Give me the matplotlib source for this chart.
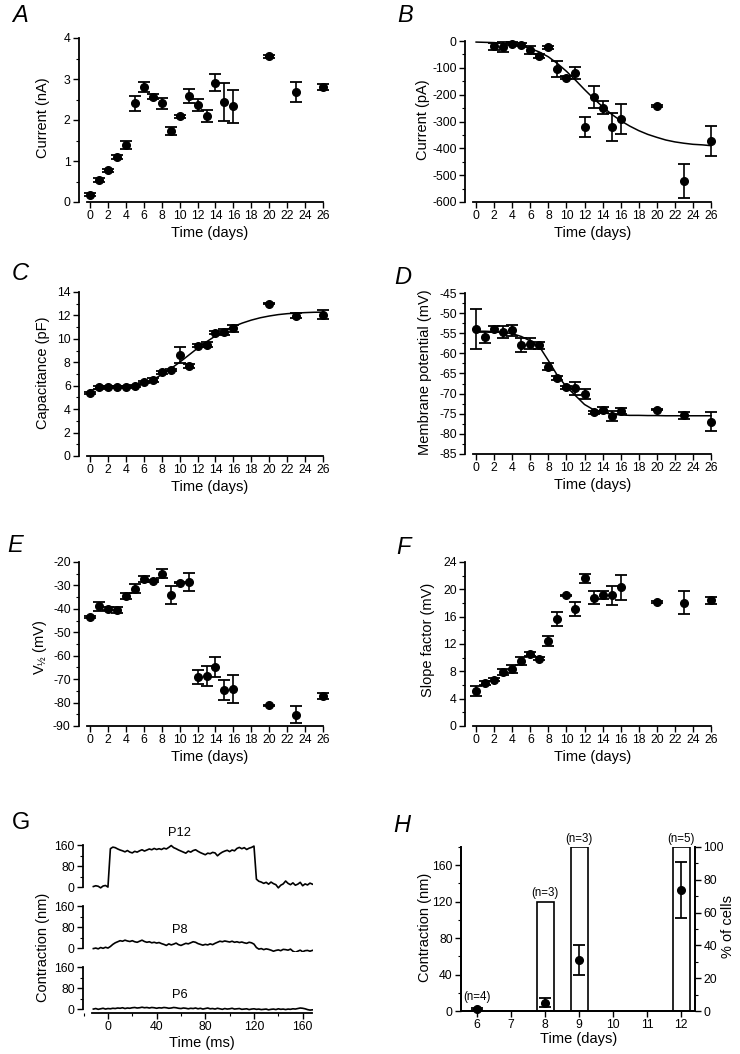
import numpy as np
import matplotlib
matplotlib.use('Agg')
import matplotlib.pyplot as plt
from matplotlib.ticker import MultipleLocator

plt.rcParams['font.family'] = ['Liberation Sans', 'DejaVu Sans']
plt.rcParams['axes.unicode_minus'] = False
plt.rcParams['mathtext.fontset'] = 'custom'
plt.rcParams['mathtext.rm'] = 'Liberation Sans'

W, H = 740, 1054

# ---- data: panels A-F (day, mean, sem) ----
days = [0, 1, 2, 3, 4, 5, 6, 7, 8, 9, 10, 11, 12, 13, 14, 15, 16, 20, 23, 26]

cur_na = [0.18, 0.54, 0.77, 1.09, 1.40, 2.41, 2.80, 2.57, 2.41, 1.74,
          2.09, 2.58, 2.37, 2.10, 2.91, 2.44, 2.33, 3.55, 2.68, 2.81]
cur_na_err = [0.03, 0.04, 0.03, 0.05, 0.10, 0.18, 0.12, 0.06, 0.13, 0.10,
              0.04, 0.17, 0.15, 0.15, 0.20, 0.46, 0.41, 0.03, 0.25, 0.08]

days_b = [2, 3, 4, 5, 6, 7, 8, 9, 10, 11, 12, 13, 14, 15, 16, 20, 23, 26]
cur_pa = [-20, -22, -10, -14, -32, -57, -24, -103, -137, -118,
          -319, -208, -248, -319, -291, -243, -523, -372]
cur_pa_err = [12, 18, 5, 5, 15, 7, 4, 30, 5, 22,
              37, 40, 25, 52, 55, 3, 63, 55]
fit_days = list(range(27))
cur_pa_fit = [-4, -5, -6, -9, -12, -18, -28, -41, -59, -84, -113, -146, -181,
              -214, -245, -273, -297, -317, -334, -348, -359, -369, -376,
              -381, -385, -387, -390]

cap_pf = [5.37, 5.86, 5.86, 5.91, 5.91, 6.00, 6.34, 6.49, 7.14, 7.34,
          8.60, 7.69, 9.43, 9.49, 10.54, 10.57, 10.91, 13.00, 11.97, 12.06]
cap_pf_err = [0.12, 0.10, 0.08, 0.08, 0.10, 0.10, 0.10, 0.15, 0.10, 0.10,
              0.68, 0.20, 0.10, 0.20, 0.15, 0.25, 0.30, 0.02, 0.20, 0.40]
cap_pf_fit = [5.60, 5.75, 5.82, 5.87, 5.92, 6.00, 6.20, 6.50, 6.95, 7.45,
              8.00, 8.60, 9.20, 9.75, 10.25, 10.70, 11.05, 11.35, 11.60,
              11.80, 11.95, 12.07, 12.15, 12.20, 12.24, 12.27, 12.28]

vm = [-54.0, -56.0, -54.0, -54.8, -54.3, -58.0, -57.6, -58.0, -63.3, -66.2,
      -68.4, -68.7, -70.1, -74.6, -74.0, -75.5, -74.3, -74.0, -75.4, -77.0]
vm_err = [5.0, 1.3, 0.8, 1.5, 1.3, 1.7, 1.3, 0.9, 0.8, 0.5,
          0.4, 1.7, 1.2, 0.4, 0.8, 1.3, 0.7, 0.1, 0.8, 2.4]
vm_fit = [-54.5, -54.5, -54.6, -54.8, -55.1, -55.8, -56.9, -58.3, -61.8,
          -65.5, -68.3, -70.5, -72.7, -74.0, -74.7, -75.1, -75.3, -75.4,
          -75.4, -75.45, -75.45, -75.5, -75.5, -75.5, -75.5, -75.5, -75.5]

vhalf = [-43.5, -38.9, -39.9, -40.6, -34.7, -31.4, -27.4, -28.1, -25.0, -34.2,
         -28.8, -28.5, -69.1, -68.6, -64.8, -74.8, -74.1, -81.2, -85.1, -77.3]
vhalf_err = [0.5, 2.0, 0.5, 1.2, 1.3, 2.0, 1.3, 0.5, 2.0, 3.8,
             0.2, 3.7, 2.8, 4.3, 4.1, 4.3, 6.0, 0.2, 3.7, 1.3]

slope = [5.12, 6.34, 6.78, 7.90, 8.30, 9.50, 10.50, 9.85, 12.40, 15.70,
         19.10, 17.10, 21.60, 18.80, 19.20, 19.10, 20.30, 18.15, 18.05, 18.40]
slope_err = [0.8, 0.3, 0.2, 0.4, 0.6, 0.6, 0.3, 0.2, 0.7, 1.0,
             0.1, 1.0, 0.6, 0.9, 0.6, 1.4, 1.8, 0.1, 1.7, 0.5]

# ---- data: panel G traces, sampled every 2 ms from -12 ms ----
p12 = [2, 5, 3, -3, 4, 6, 0, 146, 152, 150,
       145, 141, 138, 134, 139, 133, 130, 136, 133, 138,
       142, 137, 141, 145, 142, 147, 143, 146, 143, 148,
       145, 151, 158, 150, 146, 141, 137, 133, 129, 137,
       133, 139, 142, 136, 131, 127, 123, 129, 127, 132,
       130, 119, 127, 133, 137, 140, 135, 141, 138, 147,
       151, 146, 150, 143, 148, 151, 156, 30, 22, 19,
       14, 18, 11, 19, 13, 9, -3, 7, 12, 23,
       14, 9, 16, 7, 11, 18, 5, 12, 8, 15,
       11]
p8 = [-2, 0, -3, 2, -1, 3, 0, 6, 14, 20,
      24, 28, 26, 30, 27, 25, 28, 24, 22, 26,
      30, 25, 22, 24, 20, 22, 19, 21, 17, 14,
      10, 16, 12, 15, 19, 13, 10, 14, 18, 16,
      20, 24, 22, 17, 14, 11, 14, 12, 16, 13,
      18, 22, 26, 24, 27, 25, 23, 26, 22, 24,
      21, 23, 20, 18, 22, 20, 15, 2, -4, -2,
      -6, -3, -5, -8, -12, -9, -7, -10, -5, -6,
      -8, -4, -12, -16, -12, -8, -14, -10, -9, -12,
      -9]
p6 = [0, 2, -1, 1, 3, 0, 2, 1, 3, 2,
      4, 3, 5, 2, 4, 3, 5, 6, 4, 5,
      7, 5, 6, 4, 6, 5, 3, 5, 4, 6,
      5, 3, 4, 6, 5, 3, 2, 4, 3, 1,
      3, 2, 4, 1, 3, 0, 2, 4, 1, 2,
      0, 3, 1, -1, 2, 0, 1, 3, 0, 1,
      2, -1, 0, 1, -2, 0, 1, -1, 0, -2,
      -1, 0, -3, -1, 0, -2, 1, -1, 0, -2,
      0, -1, 1, 0, 2, 4, 3, 1, -2, -4,
      -3]
t_ms = -12 + 2 * np.arange(len(p12))
trace_names = ['P12', 'P8', 'P6']

# ---- data: panel H ----
h_days = [6, 8, 9, 12]
h_pct = [0, 66.7, 100, 100]
h_contr = [2, 9, 56, 133]
h_contr_err = [1, 5, 16, 31]
h_n = ['(n=4)', '(n=3)', '(n=3)', '(n=5)']
h_n_y = [15, 129, 189, 189]

TICK = 8.8
LAB = 10.5

fig = plt.figure(figsize=(W / 100, H / 100), dpi=100)


def axpx(l, t, r, b):
    return fig.add_axes([l / W, 1 - b / H, (r - l) / W, (b - t) / H])


def ftext(x, y, s, **kw):
    fig.text(x / W, 1 - y / H, s, ha='center', va='center', **kw)


def style(ax, ylim, major, minor, xlim=(-1.23, 26), xb=(-0.3, 26)):
    for s in ['top', 'right']:
        ax.spines[s].set_visible(False)
    for s in ['left', 'bottom']:
        ax.spines[s].set_linewidth(1.3)
    ax.set_xlim(*xlim)
    ax.set_ylim(*ylim)
    ax.spines['left'].set_bounds(*ylim)
    ax.spines['bottom'].set_bounds(*xb)
    ax.yaxis.set_major_locator(MultipleLocator(major))
    ax.yaxis.set_minor_locator(MultipleLocator(minor))
    ax.tick_params(which='major', length=4, width=1, labelsize=TICK, pad=2)
    ax.tick_params(which='minor', length=2, width=0.8)


def dots(ax, x, y, e):
    c = ax.errorbar(x, y, yerr=e, fmt='o', color='k', ms=5.5, capsize=4,
                    elinewidth=1.2, capthick=1.3)
    for a in c.get_children():
        a.set_clip_on(False)


panels = [
    # letter, rect, x, y, err, fit, ylim, major, minor, ylabel, letter pos, ylabel pos
    ('A', (79, 38, 323, 202), days, cur_na, cur_na_err, None, (0, 4), 1, 0.5,
     'Current (nA)', (20, 15), (43, 118)),
    ('B', (465, 41, 711, 202), days_b, cur_pa, cur_pa_err, cur_pa_fit, (-600, 0), 100, 50,
     'Current (pA)', (405, 15), (423, 120)),
    ('C', (79, 292, 323, 456), days, cap_pf, cap_pf_err, cap_pf_fit, (0, 14), 2, 1,
     'Capacitance (pF)', (20, 274), (43, 373)),
    ('D', (465, 293, 711, 454), days, vm, vm_err, vm_fit, (-85, -45), 5, 2.5,
     'Membrane potential (mV)', (403, 277), (425, 372)),
    ('E', (79, 562, 323, 726), days, vhalf, vhalf_err, None, (-90, -20), 10, 5,
     r'$\mathregular{V_{½}}$ (mV)', (15, 545), (40, 647)),
    ('F', (465, 562, 711, 726), days, slope, slope_err, None, (0, 24), 4, 2,
     'Slope factor (mV)', (403, 548), (428, 640)),
]

for (let, rect, x, y, e, fit, ylim, major, minor, ylab, lpos, ypos) in panels:
    ax = axpx(*rect)
    style(ax, ylim, major, minor)
    ax.set_xticks(range(0, 27, 2))
    if fit is not None:
        ax.plot(fit_days, fit, color='k', lw=1.1, clip_on=False)
    dots(ax, x, y, e)
    ftext(lpos[0], lpos[1], let, fontsize=17, style='italic')
    ftext(ypos[0], ypos[1], ylab, fontsize=LAB, rotation=90)
    xc = 210 if rect[0] < 300 else 593
    ftext(xc, rect[3] + 31, 'Time (days)', fontsize=LAB)

# ---- panel G ----
g_rows = [(842.4, 891), (903.4, 952), (964.4, 1013)]
g_label_y = [206, 69, 53]
for i, (tr, (t, b)) in enumerate(zip([p12, p8, p6], g_rows)):
    ax = axpx(83, t, 313, b)
    style(ax, (-15, 170), 80, 40, xlim=(-20.5, 168.5), xb=(-13, 168))
    ax.set_ylim(-15, 170)
    ax.spines['left'].set_bounds(0, 160)
    ax.set_yticks([0, 80, 160])
    ax.plot(t_ms, tr, color='k', lw=1.2)
    ax.text(59, g_label_y[i], trace_names[i], fontsize=TICK + 0.5,
            ha='center', va='center', clip_on=False)
    if i < 2:
        ax.spines['bottom'].set_visible(False)
        ax.set_xticks([])
    else:
        ax.xaxis.set_major_locator(MultipleLocator(40))
        ax.xaxis.set_minor_locator(MultipleLocator(20))
ftext(21, 823, 'G', fontsize=17)
ftext(43, 947, 'Contraction (nm)', fontsize=LAB, rotation=90)
ftext(202, 1043, 'Time (ms)', fontsize=LAB)

# ---- panel H ----
axh = axpx(461, 847, 695, 1011)
axr = axh.twinx()
axr.bar(h_days, h_pct, width=0.5, facecolor='white', edgecolor='k', lw=1.2)
axh.set_zorder(axr.get_zorder() + 1)
axh.patch.set_visible(False)
axh.set_xlim(5.53, 12.41)
axh.set_ylim(0, 180)
axr.set_ylim(0, 100)
axh.spines['top'].set_visible(False)
axr.spines['top'].set_visible(False)
for a in (axh, axr):
    for s in ['left', 'right', 'bottom']:
        a.spines[s].set_linewidth(1.3)
    a.tick_params(which='major', length=4, width=1, labelsize=TICK, pad=2)
    a.tick_params(which='minor', length=2, width=0.8)
axh.yaxis.set_major_locator(MultipleLocator(40))
axh.yaxis.set_minor_locator(MultipleLocator(20))
axh.set_yticks([0, 40, 80, 120, 160])
axr.yaxis.set_major_locator(MultipleLocator(20))
axr.yaxis.set_minor_locator(MultipleLocator(10))
axh.set_xticks(range(6, 13))
dots(axh, h_days, h_contr, h_contr_err)
for d, s, yy in zip(h_days, h_n, h_n_y):
    axh.text(d, yy, s, fontsize=8.3, ha='center', va='center', clip_on=False)
ftext(402, 825, 'H', fontsize=17, style='italic')
ftext(425, 927, 'Contraction (nm)', fontsize=LAB, rotation=90)
ftext(728, 927, '% of cells', fontsize=LAB, rotation=90)
ftext(579, 1039, 'Time (days)', fontsize=LAB)

fig.savefig('out.png', dpi=100)
